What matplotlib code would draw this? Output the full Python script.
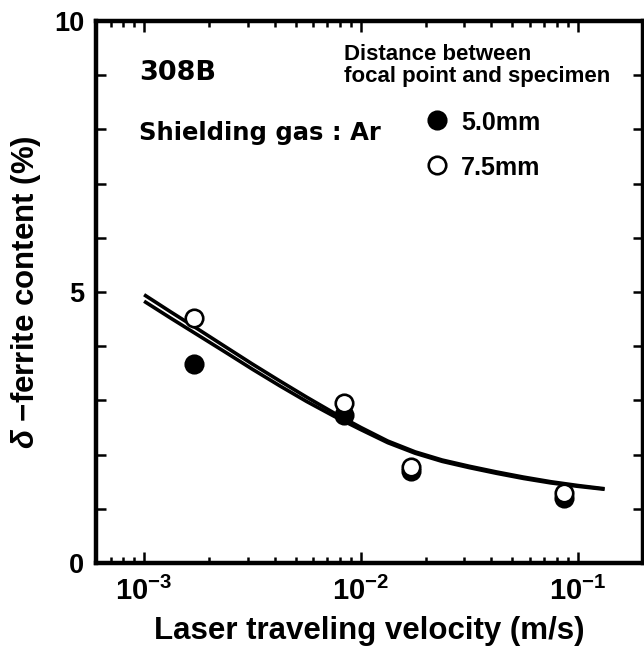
import matplotlib
matplotlib.use("Agg")
import matplotlib.pyplot as plt
from matplotlib.ticker import FixedLocator, FixedFormatter, LogLocator, NullFormatter

plt.rcParams["font.family"] = ["Liberation Sans", "DejaVu Sans"]
plt.rcParams["font.weight"] = "bold"
plt.rcParams["mathtext.fontset"] = "custom"
plt.rcParams["mathtext.rm"] = "Liberation Sans:bold"
plt.rcParams["mathtext.bf"] = "Liberation Sans:bold"
plt.rcParams["mathtext.it"] = "Liberation Sans:italic"

# Laser traveling velocity (m/s) of the measured specimens
velocity = [1.7e-3, 8.4e-3, 1.7e-2, 8.6e-2]
# delta-ferrite content (%) for each focal distance
ferrite_5_0mm = [3.67, 2.73, 1.70, 1.20]
ferrite_7_5mm = [4.52, 2.95, 1.77, 1.29]

# Fitted trend curves
fit_velocity = [1.0e-3, 1.33e-3, 1.78e-3, 2.37e-3, 3.16e-3, 4.22e-3,
                5.62e-3, 7.50e-3, 1.0e-2, 1.33e-2, 1.78e-2, 2.37e-2,
                3.16e-2, 4.22e-2, 5.62e-2, 7.50e-2, 1.0e-1, 1.33e-1]
fit_7_5mm = [4.95, 4.63, 4.31, 3.99, 3.67, 3.36, 3.06, 2.77, 2.50,
             2.25, 2.05, 1.90, 1.785, 1.68, 1.585, 1.50, 1.43, 1.37]
fit_5_0mm = [4.83, 4.515, 4.20, 3.89, 3.575, 3.27, 2.98, 2.71, 2.46,
             2.22, 2.025, 1.875, 1.76, 1.655, 1.56, 1.478, 1.415, 1.36]

x_major = [1e-3, 1e-2, 1e-1]
x_labels = [r"$\mathbf{10^{-3}}$", r"$\mathbf{10^{-2}}$", r"$\mathbf{10^{-1}}$"]
y_major = [0, 5, 10]
y_minor = [1, 2, 3, 4, 6, 7, 8, 9]

fig = plt.figure(figsize=(6.44, 6.52), dpi=100)
ax = fig.add_axes([96 / 644, 89 / 652, 547 / 644, 542 / 652])

ax.set_xscale("log")
ax.set_xlim(6e-4, 0.2)
ax.set_ylim(0, 10)

line_kw = dict(color="black", lw=2.6, solid_capstyle="butt", zorder=2)
ax.plot(fit_velocity, fit_7_5mm, **line_kw)
ax.plot(fit_velocity, fit_5_0mm, **line_kw)

mk = dict(marker="o", ms=12.6, mew=1.9, mec="black", ls="none", zorder=3)
ax.plot(velocity, ferrite_5_0mm, mfc="black", **mk)
ax.plot(velocity, ferrite_7_5mm, mfc="white", **mk)

# axis ticks
ax.xaxis.set_major_locator(FixedLocator(x_major))
ax.xaxis.set_major_formatter(FixedFormatter(x_labels))
ax.xaxis.set_minor_locator(LogLocator(base=10, subs=[2, 3, 4, 5, 6, 7, 8, 9], numticks=20))
ax.xaxis.set_minor_formatter(NullFormatter())
ax.yaxis.set_major_locator(FixedLocator(y_major))
ax.yaxis.set_minor_locator(FixedLocator(y_minor))

ax.tick_params(which="both", direction="in", top=True, right=True, width=1.8)
ax.tick_params(axis="x", which="major", length=8, pad=10, labelsize=21)
ax.tick_params(axis="x", which="minor", length=4.5)
ax.tick_params(axis="y", which="both", length=7)
ax.tick_params(axis="y", which="major", pad=8.5, labelsize=19.5)
for lab in ax.get_yticklabels():
    lab.set_fontweight("bold")

for sp in ax.spines.values():
    sp.set_linewidth(3.2)

ax.set_xlabel("Laser traveling velocity (m/s)", fontsize=22.5, fontweight="bold", labelpad=7)
ax.set_ylabel(r"$\delta$ −ferrite content (%)", fontsize=22.5, fontweight="bold", labelpad=8)

# annotations inside the frame
ax.text(0.0786, 0.891, "308B", transform=ax.transAxes, fontsize=19.5,
        fontweight="bold", family="DejaVu Sans", va="baseline", ha="left")
ax.text(0.0786, 0.780, "Shielding gas : Ar", transform=ax.transAxes, fontsize=17.5,
        fontweight="bold", family="DejaVu Sans", va="baseline", ha="left")
ax.text(0.453, 0.928, "Distance between", transform=ax.transAxes, fontsize=16,
        fontweight="bold", va="baseline", ha="left")
ax.text(0.453, 0.887, "focal point and specimen", transform=ax.transAxes, fontsize=16,
        fontweight="bold", va="baseline", ha="left")

# legend entries
legend_labels = ["5.0mm", "7.5mm"]
legend_fill = ["black", "white"]
legend_y = [0.817, 0.734]
for lab, fc, yy in zip(legend_labels, legend_fill, legend_y):
    ax.plot([0.623], [yy], transform=ax.transAxes, mfc=fc, clip_on=False, **mk)
    ax.text(0.667, yy, lab, transform=ax.transAxes, fontsize=18,
            fontweight="bold", va="center_baseline", ha="left")

fig.savefig("out.png", dpi=100, facecolor="white")
